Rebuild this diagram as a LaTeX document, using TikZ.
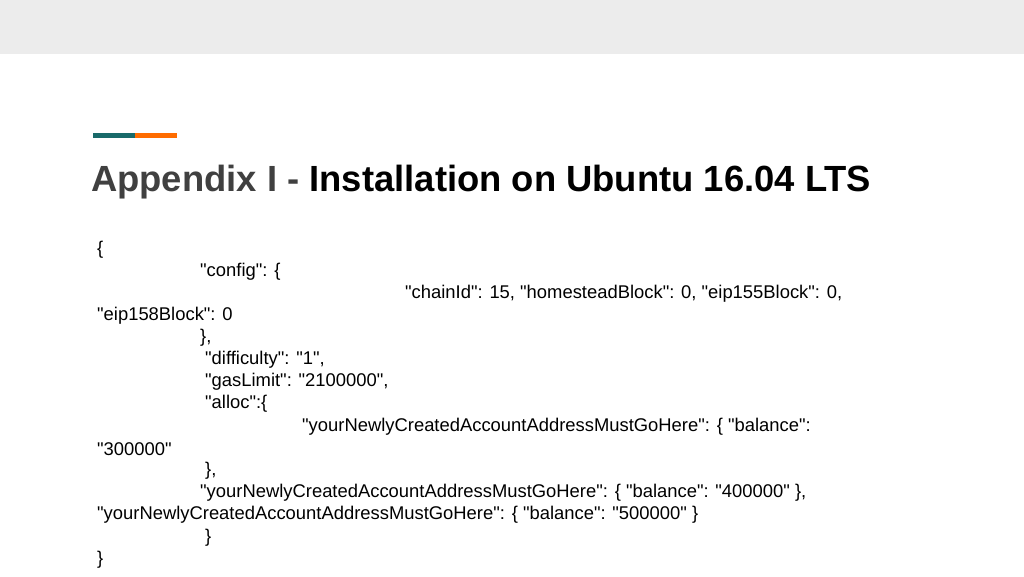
\documentclass[tikz,border=0pt]{standalone}
\usepackage{fontspec}
\setmainfont{Liberation Sans}
\newcommand\qq{\textquotedbl}
\begin{document}
\begin{tikzpicture}[x=1pt,y=-1pt,txt/.style={anchor=west,inner sep=0pt,font=\fontsize{18.4}{20}\selectfont}]
\useasboundingbox (0,0) rectangle (1024,576);
\fill[gray!15] (0,0) rectangle (1024,54);
\fill[teal!70!black!90] (93,133) rectangle (135,138);
\fill[orange!85!red] (135,133) rectangle (177,138);
\node[anchor=west,inner sep=0pt,font=\fontsize{36.4}{40}\selectfont\bfseries] (title) at (91,182) {\textcolor{black!75}{Appendix I -} Installation on Ubuntu 16.04 LTS};
\node[txt] (l1) at (97,250) {\{};
\node[txt] (l2) at (200,272) {\qq config\qq: \{};
\node[txt] (l3) at (405,294) {\qq chainId\qq: 15, \qq homesteadBlock\qq: 0, \qq eip155Block\qq: 0,};
\node[txt] (l4) at (97,316) {\qq eip158Block\qq: 0};
\node[txt] (l5) at (200,338) {\},};
\node[txt] (l6) at (205,360) {\qq difficulty\qq: \qq 1\qq,};
\node[txt] (l7) at (205,382) {\qq gasLimit\qq: \qq 2100000\qq,};
\node[txt] (l8) at (205,404) {\qq alloc\qq:\{};
\node[txt] (l9) at (302,427) {\qq yourNewlyCreatedAccountAddressMustGoHere\qq: \{ \qq balance\qq:};
\node[txt] (l10) at (97,449) {\qq 300000\qq};
\node[txt] (l11) at (205,471) {\},};
\node[txt] (l12) at (200,493) {\qq yourNewlyCreatedAccountAddressMustGoHere\qq: \{ \qq balance\qq: \qq 400000\qq\ \},};
\node[txt] (l13) at (97,515) {\qq yourNewlyCreatedAccountAddressMustGoHere\qq: \{ \qq balance\qq: \qq 500000\qq\ \}};
\node[txt] (l14) at (205,538) {\}};
\node[txt] (l15) at (97,560) {\}};
\end{tikzpicture}
\end{document}
